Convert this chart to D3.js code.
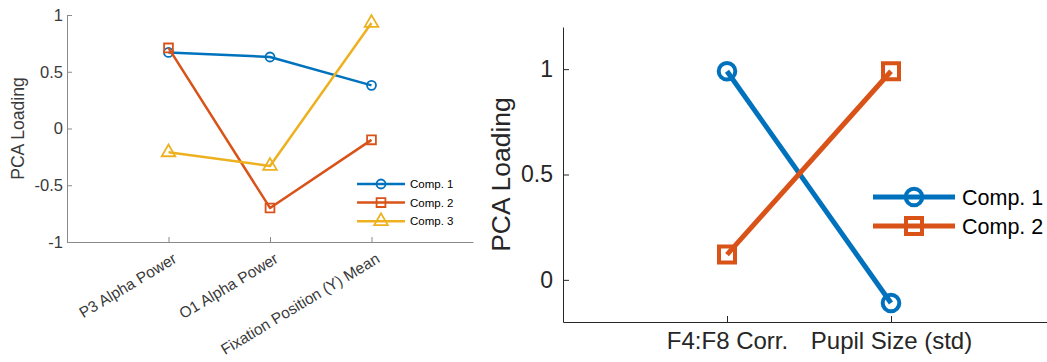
<!DOCTYPE html>
<html>
<head>
<meta charset="utf-8">
<script src="https://cdn.jsdelivr.net/npm/d3@7/dist/d3.min.js"></script>
<style>
  html, body { margin: 0; padding: 0; background: #fff; }
  svg { display: block; font-family: "Liberation Sans", Arial, Helvetica, sans-serif; }
</style>
</head>
<body>
<svg id="chart" width="1047" height="362"></svg>
<script>
// ---- Panel A: three-feature PCA loadings ----
const catsA = ["P3 Alpha Power", "O1 Alpha Power", "Fixation Position (Y) Mean"];
const comp1A = [0.67, 0.63, 0.38];
const comp2A = [0.71, -0.70, -0.10];
const comp3A = [-0.21, -0.33, 0.93];
const yTicksA = [-1, -0.5, 0, 0.5, 1];
const yTickLabelsA = ["-1", "-0.5", "0", "0.5", "1"];
const seriesNamesA = ["Comp. 1", "Comp. 2", "Comp. 3"];

// ---- Panel B: two-feature PCA loadings ----
const catsB = ["F4:F8 Corr.", "Pupil Size (std)"];
const comp1B = [0.99, -0.11];
const comp2B = [0.12, 0.99];
const yTicksB = [0, 0.5, 1];
const yTickLabelsB = ["0", "0.5", "1"];
const seriesNamesB = ["Comp. 1", "Comp. 2"];

const colors = ["#0072BD", "#D95319", "#EDB120"];
const shapes = ["circle", "square", "triangle"];

const svg = d3.select("#chart");

function markerPath(shape, s) {
  if (shape === "circle") return d3.symbol(d3.symbolCircle, Math.PI * s.r * s.r)();
  if (shape === "square") return d3.symbol(d3.symbolSquare, s.sq * s.sq)();
  return d3.symbol(d3.symbolTriangle, s.tri)();
}

function drawPanel(cfg) {
  const g = svg.append("g");
  const x = d3.scaleLinear().domain(cfg.xDomain).range(cfg.xRange);
  const y = d3.scaleLinear().domain(cfg.yDomain).range(cfg.yRange);

  // y axis
  const ya = g.append("g")
    .attr("transform", `translate(${cfg.xRange[0]},0)`)
    .call(d3.axisLeft(y).tickValues(cfg.yTicks)
      .tickFormat((d, i) => cfg.yTickLabels[i])
      .tickSizeInner(-cfg.tickLen).tickSizeOuter(0).tickPadding(cfg.yPad));
  // x axis
  const xa = g.append("g")
    .attr("transform", `translate(0,${cfg.yRange[0]})`)
    .call(d3.axisBottom(x).tickValues(cfg.cats.map((c, i) => i + 1))
      .tickFormat((d, i) => cfg.cats[i])
      .tickSizeInner(-cfg.tickLen).tickSizeOuter(0).tickPadding(cfg.xPad));

  [ya, xa].forEach(a => {
    a.select(".domain").attr("stroke", cfg.axisColor).attr("stroke-width", 1);
    a.selectAll(".tick line").attr("stroke", cfg.axisColor).attr("stroke-width", 1);
    a.selectAll(".tick text").attr("fill", cfg.textColor);
  });
  ya.selectAll(".tick text").style("font-size", cfg.tickFont + "px");
  xa.selectAll(".tick text").style("font-size", cfg.xTickFont + "px");

  if (cfg.rotate) {
    xa.selectAll(".tick text")
      .attr("text-anchor", "end")
      .attr("y", 0).attr("dy", "0.35em")
      .attr("transform", `translate(${cfg.rotDx},${cfg.rotDy}) rotate(-${cfg.rotate})`);
  }

  // y label
  g.append("text")
    .attr("transform", `translate(${cfg.yLabelX},${(cfg.yRange[0] + cfg.yRange[1]) / 2}) rotate(-90)`)
    .attr("text-anchor", "middle").attr("dy", "0.35em")
    .attr("fill", cfg.textColor)
    .style("font-size", cfg.labelFont + "px")
    .text("PCA Loading");

  // series
  const line = d3.line().x((d, i) => x(i + 1)).y(d => y(d));
  cfg.series.forEach((vals, k) => {
    g.append("path").datum(vals)
      .attr("d", line)
      .attr("fill", "none")
      .attr("stroke", colors[k])
      .attr("stroke-width", cfg.lineW)
      .attr("stroke-linejoin", "round");
    g.selectAll(null).data(vals).enter().append("path")
      .attr("d", markerPath(shapes[k], cfg.marker))
      .attr("transform", (d, i) => `translate(${x(i + 1)},${y(d)})`)
      .attr("fill", "none")
      .attr("stroke", colors[k])
      .attr("stroke-width", cfg.markerW);
  });

  // legend
  const lg = g.append("g");
  cfg.names.forEach((name, k) => {
    const yy = cfg.leg.y0 + k * cfg.leg.dy;
    lg.append("line")
      .attr("x1", cfg.leg.x1).attr("x2", cfg.leg.x2)
      .attr("y1", yy).attr("y2", yy)
      .attr("stroke", colors[k]).attr("stroke-width", cfg.lineW);
    lg.append("path")
      .attr("d", markerPath(shapes[k], cfg.marker))
      .attr("transform", `translate(${(cfg.leg.x1 + cfg.leg.x2) / 2},${yy})`)
      .attr("fill", "none").attr("stroke", colors[k]).attr("stroke-width", cfg.markerW);
    lg.append("text")
      .attr("x", cfg.leg.tx).attr("y", yy).attr("dy", "0.35em")
      .attr("fill", "#000")
      .style("font-size", cfg.leg.font + "px")
      .text(name);
  });
}

drawPanel({
  cats: catsA, series: [comp1A, comp2A, comp3A], names: seriesNamesA,
  xDomain: [0, 4], xRange: [67, 473],
  yDomain: [-1, 1], yRange: [242, 15],
  yTicks: yTicksA, yTickLabels: yTickLabelsA,
  tickLen: 5, yPad: 4, xPad: 6,
  axisColor: "#8a8a8a", textColor: "#3a3a3a",
  tickFont: 16.5, xTickFont: 15.5, labelFont: 17.6,
  rotate: 31, rotDx: 6, rotDy: 15,
  yLabelX: 18,
  lineW: 2.5, markerW: 1.8,
  marker: { r: 4.5, sq: 8.8, tri: 80 },
  leg: { x1: 357, x2: 405, y0: 184, dy: 18.6, tx: 410, font: 11.5 }
});

drawPanel({
  cats: catsB, series: [comp1B, comp2B], names: seriesNamesB,
  xDomain: [0, 3], xRange: [563, 1055],
  yDomain: [-0.2, 1.2], yRange: [322, 27],
  yTicks: yTicksB, yTickLabels: yTickLabelsB,
  tickLen: 6, yPad: 10, xPad: 10,
  axisColor: "#262626", textColor: "#262626",
  tickFont: 23, xTickFont: 24, labelFont: 26.5,
  rotate: 0,
  yLabelX: 501,
  lineW: 5, markerW: 4,
  marker: { r: 8.3, sq: 16, tri: 200 },
  leg: { x1: 873, x2: 955, y0: 197, dy: 29, tx: 962, font: 21.5 }
});
</script>
</body>
</html>
